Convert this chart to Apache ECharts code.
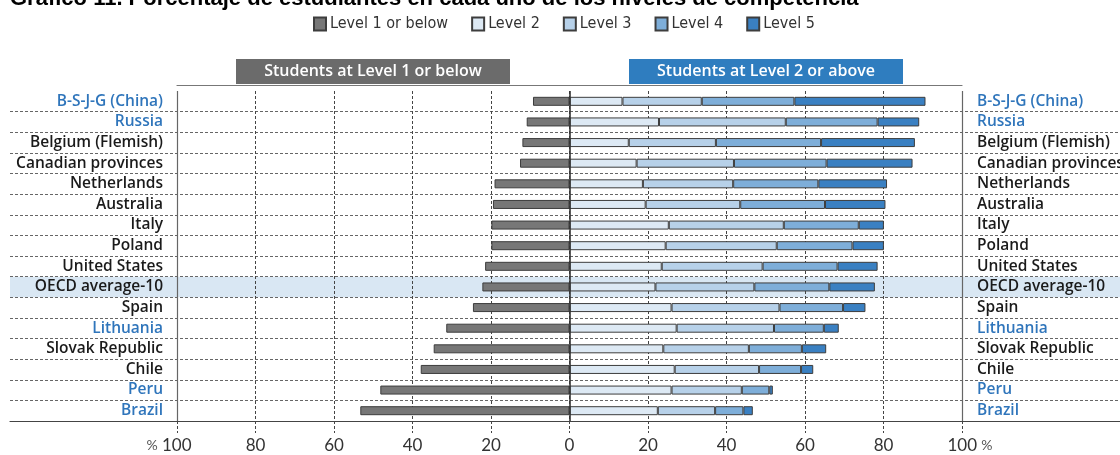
<!DOCTYPE html>
<html>
<head>
<meta charset="utf-8">
<script src="https://cdn.jsdelivr.net/npm/echarts@6/dist/echarts.min.js"></script>
<style>
html,body{margin:0;padding:0;background:#fff;}
#chart{width:1120px;height:455px;}
</style>
</head>
<body>
<div id="chart"></div>
<script>
const categories = ['B-S-J-G (China)','Russia','Belgium (Flemish)','Canadian provinces','Netherlands','Australia','Italy','Poland','United States','OECD average-10','Spain','Lithuania','Slovak Republic','Chile','Peru','Brazil'];
const partners = ['B-S-J-G (China)','Russia','Lithuania','Peru','Brazil'];
const highlighted = ['OECD average-10'];
const level1 = [9.3,10.9,12.0,12.6,19.1,19.5,19.9,19.9,21.5,22.2,24.6,31.4,34.6,37.9,48.2,53.3];
const level2 = [13.5,22.8,15.1,17.1,18.7,19.4,25.3,24.5,23.5,21.9,26.0,27.3,23.9,26.8,26.0,22.5];
const level3 = [20.2,32.3,22.2,24.8,23.0,24.1,29.3,28.3,25.7,25.2,27.5,24.8,21.8,21.5,17.9,14.6];
const level4 = [23.6,23.4,26.8,23.6,21.7,21.6,19.1,19.3,19.1,19.1,16.2,12.7,13.5,10.7,7.0,7.2];
const level5 = [33.4,10.6,23.9,21.9,17.5,15.4,6.4,8.0,10.2,11.6,5.7,3.8,6.2,3.1,0.9,2.4];
const seriesNames = ['Level 1 or below','Level 2','Level 3','Level 4','Level 5'];
const seriesColors = ['#777777','#dde9f4','#b7d1e9','#7eaed9','#3a80c2'];
const headerLeft = 'Students at Level 1 or below';
const headerRight = 'Students at Level 2 or above';
const titleText = 'Gráfico 11. Porcentaje de estudiantes en cada uno de los niveles de competencia';

const chart = echarts.init(document.getElementById('chart'));
const labelFont = 'Open Sans';
const GT = 91, GH = 330;

const bandColors = categories.map(c => highlighted.includes(c) ? '#d9e7f3' : 'rgba(0,0,0,0)');
const labelColor = v => partners.includes(v) ? '#2f75bb' : '#1a1a1a';

const values = [level1.map(v => -v), level2, level3, level4, level5];

const series = values.map((d, i) => ({
  name: seriesNames[i],
  type: 'bar',
  stack: 'total',
  xAxisIndex: 1,
  yAxisIndex: 1,
  barWidth: 9,
  data: d,
  itemStyle: { color: seriesColors[i], borderColor: '#3d3d3d', borderWidth: 1 },
  z: 3
}));
series[0].markLine = {
  silent: true, symbol: 'none', animation: false,
  label: { show: false },
  data: [
    { xAxis: -100, lineStyle: { color: '#666', width: 1.2, type: 'solid' } },
    { xAxis: 100, lineStyle: { color: '#666', width: 1.2, type: 'solid' } },
    { xAxis: 0, lineStyle: { color: '#333', width: 1.6, type: 'solid' } }
  ]
};

chart.setOption({
  animation: false,
  title: {
    text: titleText, left: 5, top: -17,
    textStyle: { fontFamily: 'Liberation Sans', fontWeight: 'bold', fontSize: 22, color: '#000' }
  },
  legend: {
    data: seriesNames, left: 308, top: 11, icon: 'rect',
    itemWidth: 12, itemHeight: 13, itemGap: 23,
    textStyle: { fontFamily: 'DejaVu Sans Condensed, Liberation Sans', fontSize: 16, color: '#333', padding: [0,0,0,-1] }
  },
  grid: [
    { left: 10, right: 0, top: GT, height: GH, outerBoundsMode: 'none', containLabel: false },
    { left: 177, right: 158, top: GT, height: GH, outerBoundsMode: 'none', containLabel: false }
  ],
  xAxis: [
    { gridIndex: 0, type: 'value', min: 0, max: 1,
      axisLine: { show: true, lineStyle: { color: '#444', width: 1.2 } },
      axisTick: { show: false }, axisLabel: { show: false }, splitLine: { show: false } },
    { gridIndex: 1, type: 'value', min: -100, max: 100, interval: 20,
      axisLine: { show: false },
      axisTick: { show: true, length: 12, lineStyle: { color: '#444', type: [3, 2] } },
      splitLine: { show: true, lineStyle: { color: '#444', type: [3, 2], width: 1 } },
      axisLabel: {
        margin: 16, fontFamily: 'Lato', fontSize: 17, color: '#333',
        formatter: v => v === -100 ? '{p|%} 100{q|}' : (v === 100 ? '{q|}100 {p|%}' : String(Math.abs(v))),
        rich: { p: { fontFamily: 'Lato', fontSize: 14, color: '#555' }, q: { width: 16 } }
      } },
    { gridIndex: 1, type: 'value', min: -100, max: 100, position: 'top', offset: 6,
      axisLine: { show: true, lineStyle: { color: '#777', width: 1.2 } },
      axisTick: { show: false }, axisLabel: { show: false }, splitLine: { show: false } }
  ],
  yAxis: [
    { gridIndex: 0, type: 'category', data: categories, inverse: true,
      axisLine: { show: false }, axisTick: { show: false }, axisLabel: { show: false },
      splitLine: { show: true, interval: (i) => i !== 0, lineStyle: { color: '#666', type: [3, 2], width: 1 } },
      splitArea: { show: true, areaStyle: { color: bandColors } } },
    { gridIndex: 1, type: 'category', data: categories, inverse: true, position: 'left',
      axisLine: { show: false }, axisTick: { show: false },
      axisLabel: { interval: 0, margin: 14, fontFamily: labelFont, fontWeight: 600, fontSize: 15.5, color: labelColor } },
    { gridIndex: 1, type: 'category', data: categories, inverse: true, position: 'right',
      axisLine: { show: false }, axisTick: { show: false },
      axisLabel: { interval: 0, margin: 15, fontFamily: labelFont, fontWeight: 600, fontSize: 15.5, color: labelColor } }
  ],
  graphic: [
    { type: 'rect', shape: { x: 236, y: 59, width: 274, height: 25 }, style: { fill: '#6b6b6b' }, z: 10 },
    { type: 'text', x: 373, y: 71.5, style: { text: headerLeft, fill: '#fff', font: '600 16px "Open Sans"', align: 'center', verticalAlign: 'middle' }, z: 11 },
    { type: 'rect', shape: { x: 629, y: 59, width: 274, height: 25 }, style: { fill: '#2f7dbf' }, z: 10 },
    { type: 'text', x: 766, y: 71.5, style: { text: headerRight, fill: '#fff', font: '600 16px "Open Sans"', align: 'center', verticalAlign: 'middle' }, z: 11 }
  ],
  series: series
});
</script>
</body>
</html>
